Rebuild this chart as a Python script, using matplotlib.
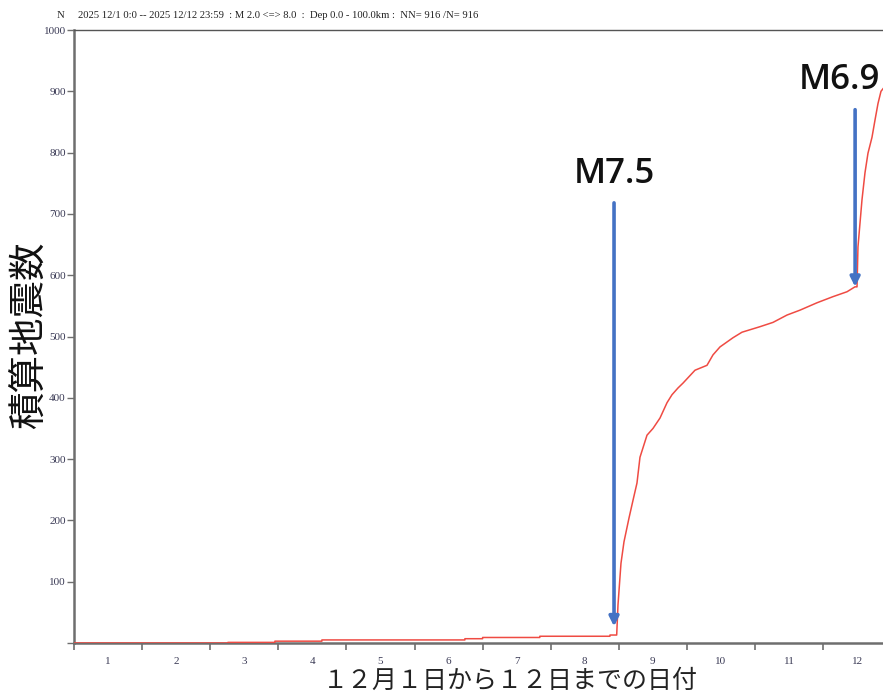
import matplotlib
matplotlib.use("Agg")
import matplotlib.pyplot as plt

# ---- data (days since 2025-12-01 00:00, cumulative count) ----
days = [0.0, 2.26, 2.26, 2.95, 2.95, 3.64, 3.64, 5.74, 5.74, 6.00, 6.00, 6.84, 6.84,
        7.87, 7.87, 7.969, 7.988, 8.032, 8.076, 8.150, 8.209, 8.267, 8.311, 8.414,
        8.502, 8.605, 8.708, 8.781, 8.869, 8.943, 9.119, 9.295, 9.383, 9.486, 9.677,
        9.809, 10.073, 10.264, 10.470, 10.661, 10.910, 11.145, 11.351, 11.468, 11.498,
        11.512, 11.571, 11.615, 11.659, 11.718, 11.762, 11.806, 11.850, 11.90, 12.0]
counts = [0, 0, 1, 1, 3, 3, 5, 5, 7, 7, 9, 9, 11,
          11, 13, 13, 62, 130, 165, 204, 233, 261, 303, 339,
          350, 367, 392, 405, 416, 424, 445, 453, 470, 483, 498,
          507, 516, 523, 535, 543, 555, 565, 573, 581, 581,
          646, 723, 767, 799, 825, 853, 880, 900, 907, 916]

quake_labels = ["M7.5", "M6.9"]
quake_days = [7.93, 11.47]
arrow_top = [718, 870]
arrow_tip = [27, 581]
label_y = [765, 918]
label_x = [7.93, 11.24]

day_labels = [str(d) for d in range(1, 13)]
y_ticks = [100, 200, 300, 400, 500, 600, 700, 800, 900, 1000]

header_n = "N"
header = "2025 12/1 0:0 -- 2025 12/12 23:59  : M 2.0 <=> 8.0  :  Dep 0.0 - 100.0km :  NN= 916 /N= 916"
ylabel = "積算地震数"
xlabel = "１２月１日から１２日までの日付"

# ---- figure ----
fig = plt.figure(figsize=(8.83, 6.95), dpi=100)
ax = fig.add_axes([74/883, 52/695, (883-74)/883, (643-30)/695])

ax.plot(days, counts, color="#ef4b43", lw=1.1, zorder=3)

ax.set_xlim(0, (883-74)/68.1)
ax.set_ylim(0, 1000)

# spines
for s in ["left", "bottom"]:
    ax.spines[s].set_color("#6e6e6e")
    ax.spines[s].set_linewidth(1.8)
ax.spines["top"].set_color("#555555")
ax.spines["top"].set_linewidth(1.0)
ax.spines["right"].set_visible(False)

# x ticks: major at day boundaries (no labels), labels at mid-day
ax.set_xticks(range(0, 12))
ax.set_xticklabels([])
ax.set_xticks([d + 0.5 for d in range(12)], minor=True)
ax.set_xticklabels(day_labels, minor=True, family="Liberation Serif",
                   fontsize=8, color="#3a3a55")
ax.tick_params(axis="x", which="major", direction="out", length=5, width=1.2,
               color="#6e6e6e")
ax.tick_params(axis="x", which="minor", length=0, pad=10)

ax.set_yticks([0] + y_ticks)
ax.set_yticklabels([""] + [str(v) for v in y_ticks], family="Liberation Serif",
                   fontsize=8, color="#3a3a55")
ax.tick_params(axis="y", direction="out", length=5, width=1.0, color="#6e6e6e", pad=1)

# arrows and labels
for lab, xd, yt, yb, lx, ly in zip(quake_labels, quake_days, arrow_top, arrow_tip,
                                   label_x, label_y):
    ax.annotate("", xy=(xd, yb), xytext=(xd, yt),
                arrowprops=dict(arrowstyle="-|>", color="#4472c4", lw=2.6,
                                mutation_scale=14, shrinkA=0, shrinkB=0),
                zorder=4)
    ax.text(lx, ly, lab, ha="center", va="center", fontsize=25,
            family="Open Sans", weight="semibold", color="#111111", zorder=5)

# header
fig.text(57/883, 1 - 16/695, header_n, family="Liberation Serif", fontsize=7.7,
         va="center", ha="left", color="#222222")
fig.text(78/883, 1 - 16/695, header, family="Liberation Serif", fontsize=7.7,
         va="center", ha="left", color="#222222")

# axis labels
fig.text(30/883, 1 - 335/695, ylabel, rotation=90, ha="center", va="center",
         fontsize=27, family=["Noto Sans CJK JP", "DejaVu Sans"], color="#111111")
fig.text(510/883, 1 - 681/695, xlabel, ha="center", va="center",
         fontsize=18, family=["Noto Sans CJK JP", "DejaVu Sans"], color="#222222")

fig.savefig("out.png", dpi=100)
